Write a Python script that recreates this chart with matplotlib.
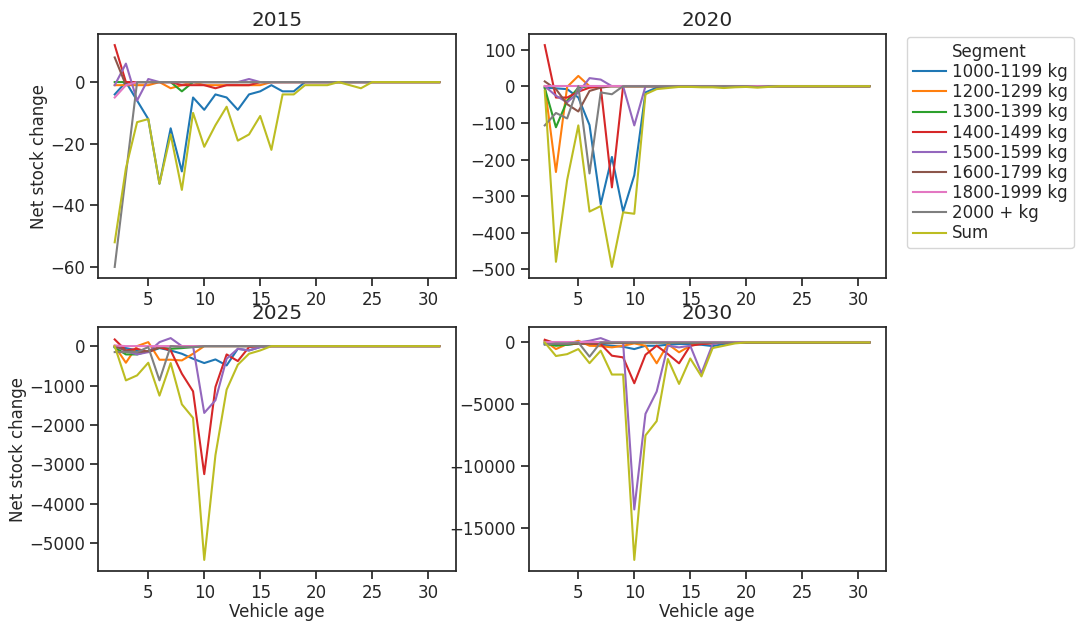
import matplotlib
matplotlib.use("Agg")
import matplotlib.pyplot as plt
from matplotlib.lines import Line2D

# Vehicle age on the x axis
ages = list(range(2, 32))

segments = ["1000-1199 kg", "1200-1299 kg", "1300-1399 kg", "1400-1499 kg",
            "1500-1599 kg", "1600-1799 kg", "1800-1999 kg", "2000 + kg", "Sum"]
years = [2015, 2020, 2025, 2030]

# Net stock change per segment (rows follow `segments`), ages 2..31
net_2015 = [
    [-4, 0, -6, -12, -33, -15, -29, -5, -9, -4, -5, -9, -4, -3, -1, -3, -3, 0, 0, 0, 0, 0, 0, 0, 0, 0, 0, 0, 0, 0],
    [-1, -1, -1, -1, 0, -2, -1, 0, -1, -1, -1, -1, -1, -1, 0, 0, 0, 0, 0, 0, 0, 0, 0, 0, 0, 0, 0, 0, 0, 0],
    [0, 0, 0, 0, 0, 0, -3, 0, 0, 0, 0, 0, 0, 0, 0, 0, 0, 0, 0, 0, 0, 0, 0, 0, 0, 0, 0, 0, 0, 0],
    [12, 0, 0, 0, 0, 0, -1, -1, -1, -2, -1, -1, -1, 0, 0, 0, 0, 0, 0, 0, 0, 0, 0, 0, 0, 0, 0, 0, 0, 0],
    [-1, 6, -6, 1, 0, 0, 0, 0, 0, 0, 0, 0, 1, 0, 0, 0, 0, 0, 0, 0, 0, 0, 0, 0, 0, 0, 0, 0, 0, 0],
    [8, -1, 0, 0, 0, 0, 0, 0, 0, 0, 0, 0, 0, 0, 0, 0, 0, 0, 0, 0, 0, 0, 0, 0, 0, 0, 0, 0, 0, 0],
    [-5, -1, 0, 0, 0, 0, 0, 0, 0, 0, 0, 0, 0, 0, 0, 0, 0, 0, 0, 0, 0, 0, 0, 0, 0, 0, 0, 0, 0, 0],
    [-60, -30, 0, 0, 0, 0, 0, 0, 0, 0, 0, 0, 0, 0, 0, 0, 0, 0, 0, 0, 0, 0, 0, 0, 0, 0, 0, 0, 0, 0],
    [-52, -28, -13, -12, -33, -17, -35, -10, -21, -14, -8, -19, -17, -11, -22, -4, -4, -1, -1, -1, 0, -1, -2, 0, 0, 0, 0, 0, 0, 0],
]

net_2020 = [
    [-4, -6, -8, -31, -106, -322, -193, -342, -243, -17, -4, -2, 0, 0, 0, 0, -3, 0, 0, 0, 0, 0, 0, 0, 0, 0, 0, 0, 0, 0],
    [0, -234, -2, 28, 0, 0, 0, 0, 0, 0, 0, 0, 0, 0, 0, 0, 0, 0, 0, 0, 0, 0, 0, 0, 0, 0, 0, 0, 0, 0],
    [-5, -112, -40, -4, 0, 0, 0, 0, 0, 0, 0, 0, 0, 0, 0, 0, 0, 0, 0, 0, 0, 0, 0, 0, 0, 0, 0, 0, 0, 0],
    [112, -31, -31, -15, -4, -2, -276, 0, 0, 0, 0, 0, 0, 0, 0, 0, 0, 0, 0, 0, 0, 0, 0, 0, 0, 0, 0, 0, 0, 0],
    [0, -26, -44, -17, 22, 18, 0, 0, -107, 0, 0, 0, 0, 0, 0, 0, 0, 0, 0, 0, 0, 0, 0, 0, 0, 0, 0, 0, 0, 0],
    [13, -8, -49, -69, -13, -4, 0, 0, 0, 0, 0, 0, 0, 0, 0, 0, 0, 0, 0, 0, 0, 0, 0, 0, 0, 0, 0, 0, 0, 0],
    [0, 0, 0, 0, 0, 0, 0, 0, 0, 0, 0, 0, 0, 0, 0, 0, 0, 0, 0, 0, 0, 0, 0, 0, 0, 0, 0, 0, 0, 0],
    [-107, -73, -88, 0, -238, -17, -22, 0, 0, 0, 0, 0, 0, 0, 0, 0, 0, 0, 0, -2, 0, 0, 0, 0, 0, 0, 0, 0, 0, 0],
    [-12, -479, -256, -107, -342, -327, -493, -344, -348, -22, -8, -5, -2, -2, -3, -3, -5, -3, -2, -4, -2, 0, 0, 0, 0, 0, 0, 0, 0, 0],
]

net_2025 = [
    [-30, -50, -110, -150, -51, -110, -194, -321, -430, -338, -490, -68, -110, -25, 0, 0, 0, 0, 0, 0, 0, 0, 0, 0, 0, 0, 0, 0, 0, 0],
    [0, -422, 0, 101, -346, -346, -363, -194, 0, 0, 0, 0, 0, 0, 0, 0, 0, 0, 0, 0, 0, 0, 0, 0, 0, 0, 0, 0, 0, 0],
    [-30, -211, -211, -127, -42, -68, -51, -25, 0, 0, 0, 0, 0, 0, 0, 0, 0, 0, 0, 0, 0, 0, 0, 0, 0, 0, 0, 0, 0, 0],
    [169, -110, -68, -152, -25, -110, -700, -1148, -3249, -1038, -211, -380, -25, 0, 0, 0, 0, 0, 0, 0, 0, 0, 0, 0, 0, 0, 0, 0, 0, 0],
    [0, -127, -211, -152, 101, 203, 0, 0, -1696, -1375, -321, -68, -110, -25, 0, 0, 0, 0, 0, 0, 0, 0, 0, 0, 0, 0, 0, 0, 0, 0],
    [0, -110, -152, -127, -25, 0, 0, 0, 0, 0, 0, 0, 0, 0, 0, 0, 0, 0, 0, 0, 0, 0, 0, 0, 0, 0, 0, 0, 0, 0],
    [17, 0, 0, 0, 0, 0, 0, 0, 0, 0, 0, 0, 0, 0, 0, 0, 0, 0, 0, 0, 0, 0, 0, 0, 0, 0, 0, 0, 0, 0],
    [-152, -152, -152, -25, -869, 0, -25, -25, 0, 0, 0, 0, 0, 0, 0, 0, 0, 0, 0, 0, 0, 0, 0, 0, 0, 0, 0, 0, 0, 0],
    [0, -870, -743, -422, -1257, -430, -1477, -1823, -5426, -2768, -1105, -473, -194, -110, 0, 0, 0, 0, 0, 0, 0, 0, 0, 0, 0, 0, 0, 0, 0, 0],
]

net_2030 = [
    [-134, -188, -188, -80, -134, -188, -270, -350, -540, -270, -270, -190, -130, -130, -190, -300, -130, 0, 0, 0, 0, 0, 0, 0, 0, 0, 0, 0, 0, 0],
    [134, -540, -134, 134, -270, -300, -400, -270, -80, -270, -1690, -130, -800, -270, -80, -50, 0, 0, 0, 0, 0, 0, 0, 0, 0, 0, 0, 0, 0, 0],
    [-80, -270, -190, -80, -50, 0, 0, 0, 0, 0, 0, 0, 0, 0, 0, 0, 0, 0, 0, 0, 0, 0, 0, 0, 0, 0, 0, 0, 0, 0],
    [215, -80, -80, -80, -80, -134, -1075, -1210, -3306, -1000, -269, -941, -1694, -269, -130, -80, 0, 0, 0, 0, 0, 0, 0, 0, 0, 0, 0, 0, 0, 0],
    [0, -80, -80, 0, 134, 349, 0, 0, -13522, -5780, -3978, -270, -400, -270, -2500, -134, 0, 0, 0, 0, 0, 0, 0, 0, 0, 0, 0, 0, 0, 0],
    [54, -54, -54, -54, -54, -54, -54, -54, 0, 0, 0, 0, 0, 0, 0, 0, 0, 0, 0, 0, 0, 0, 0, 0, 0, 0, 0, 0, 0, 0],
    [0, 0, 0, 0, 0, 0, 0, 0, 0, 0, 0, 0, 0, 0, 0, 0, 0, 0, 0, 0, 0, 0, 0, 0, 0, 0, 0, 0, 0, 0],
    [-188, -80, -80, 0, -1156, 0, 0, 0, 0, 0, 0, 0, 0, 0, 0, 0, 0, 0, 0, 0, 0, 0, 0, 0, 0, 0, 0, 0, 0, 0],
    [0, -1100, -950, -538, -1680, -672, -2600, -2600, -17608, -7527, -6371, -1344, -3360, -1300, -2750, -457, -269, -80, 0, 0, 0, 0, 0, 0, 0, 0, 0, 0, 0, 0],
]

colors = ["#1f77b4", "#ff7f0e", "#2ca02c", "#d62728", "#9467bd",
          "#8c564b", "#e377c2", "#7f7f7f", "#bcbd22"]

plt.rcParams.update({
    "font.family": "DejaVu Sans",
    "font.size": 12,
    "axes.titlesize": 14.4,
    "text.color": ".15",
    "axes.labelcolor": ".15",
    "axes.edgecolor": ".15",
    "axes.linewidth": 1.25,
    "xtick.color": ".15",
    "ytick.color": ".15",
    "xtick.direction": "out",
    "ytick.direction": "out",
    "xtick.major.size": 6,
    "ytick.major.size": 6,
    "xtick.major.width": 1.25,
    "ytick.major.width": 1.25,
    "lines.linewidth": 1.5,
})

fig = plt.figure(figsize=(10.81, 6.21), dpi=100)
gs = fig.add_gridspec(2, 2, left=0.0911, right=0.8192, top=0.9452, bottom=0.0805,
                      wspace=0.2045, hspace=0.2008)

data = [net_2015, net_2020, net_2025, net_2030]
axes = []
for i, (year, vals) in enumerate(zip(years, data)):
    ax = fig.add_subplot(gs[i // 2, i % 2])
    for seg, col, series in zip(segments, colors, vals):
        ax.plot(ages, series, color=col, label=seg)
    ax.set_title(str(year))
    ax.set_xticks([5, 10, 15, 20, 25, 30])
    if i % 2 == 0:
        ax.set_ylabel("Net stock change", labelpad=2)
    if i >= 2:
        ax.set_xlabel("Vehicle age", labelpad=0.3)
    axes.append(ax)

# legend with the hue name as a blank first entry
handles = [Line2D([], [], color="none")]
handles += [Line2D([], [], color=c, lw=1.5) for c in colors]
labels = ["Segment"] + segments
axes[1].legend(handles, labels, loc="upper left",
               bbox_to_anchor=(907 / 1081, 1 - 37 / 621),
               bbox_transform=fig.transFigure, borderaxespad=0,
               fontsize=12, labelspacing=0.13, handletextpad=0.35,
               borderpad=0.35, edgecolor="0.8")

fig.savefig("out.png", dpi=100)
